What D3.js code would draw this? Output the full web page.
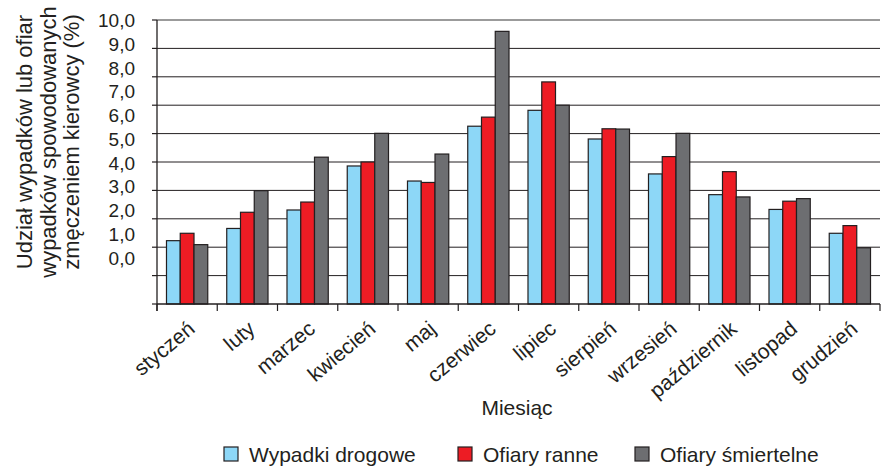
<!DOCTYPE html>
<html>
<head>
<meta charset="utf-8">
<script src="https://cdn.jsdelivr.net/npm/d3@7/dist/d3.min.js"></script>
<style>
  html, body { margin: 0; padding: 0; background: #fff; }
  svg text { font-family: Arial, "Liberation Sans", sans-serif; fill: #231f20; }
</style>
</head>
<body>
<svg id="chart" width="886" height="468"></svg>
<script>
// Months on the category axis
const months = ["styczeń", "luty", "marzec", "kwiecień", "maj", "czerwiec",
                "lipiec", "sierpień", "wrzesień", "październik", "listopad", "grudzień"];

// Series names (legend)
const seriesNames = ["Wypadki drogowe", "Ofiary ranne", "Ofiary śmiertelne"];

// Values per month, in grid units
const wypadkiDrogowe   = [2.23, 2.66, 3.31, 4.86, 4.33, 6.26, 6.82, 5.81, 4.58, 3.85, 3.33, 2.49];
const ofiaryRanne      = [2.49, 3.23, 3.59, 5.00, 4.28, 6.58, 7.82, 6.17, 5.19, 4.66, 3.62, 2.76];
const ofiarySmiertelne = [2.09, 3.99, 5.17, 6.01, 5.28, 9.60, 7.00, 6.16, 6.01, 3.77, 3.71, 1.98];

// Y tick labels
const yTickLabels = ["0,0", "1,0", "2,0", "3,0", "4,0", "5,0", "6,0", "7,0", "8,0", "9,0", "10,0"];

const colors = ["#8dd7f7", "#ed1c24", "#6d6e71"];
const seriesValues = [wypadkiDrogowe, ofiaryRanne, ofiarySmiertelne];

const svg = d3.select("#chart");
const plotLeft = 157, plotRight = 880, plotTop = 20, plotBottom = 304;

const x0 = d3.scaleBand().domain(months).range([plotLeft, plotRight]).padding(0);
const x1 = d3.scaleBand().domain(seriesNames).range([0, x0.bandwidth()])
  .paddingInner(0).paddingOuter(0.69);
const y = d3.scaleLinear().domain([0, 10]).range([plotBottom, plotTop]);
// tick labels are set on their own, tighter scale
const yLabel = d3.scaleLinear().domain([0, 10]).range([258, 20.5]);

// horizontal grid lines
const gridVals = d3.range(1, 11);
svg.append("g").selectAll("line").data(gridVals).join("line")
  .attr("x1", plotLeft).attr("x2", plotRight)
  .attr("y1", d => y(d)).attr("y2", d => y(d))
  .attr("stroke", d => d === 10 ? "#7a7a7a" : "#231f20")
  .attr("stroke-width", d => d === 10 ? 1.4 : 1);

// bars
const rows = months.map((m, i) => ({ month: m, vals: seriesNames.map((s, k) => ({ s, k, v: seriesValues[k][i] })) }));
const groups = svg.append("g").selectAll("g").data(rows).join("g")
  .attr("transform", d => `translate(${x0(d.month)},0)`);
groups.selectAll("rect").data(d => d.vals).join("rect")
  .attr("x", d => x1(d.s))
  .attr("width", x1.bandwidth())
  .attr("y", d => y(d.v))
  .attr("height", d => y(0) - y(d.v))
  .attr("fill", d => colors[d.k])
  .attr("stroke", "#231f20")
  .attr("stroke-width", 1.2);

// y axis with ticks
const yAxis = svg.append("g");
yAxis.append("line").attr("x1", plotLeft).attr("x2", plotLeft).attr("y1", plotTop).attr("y2", plotBottom + 7)
  .attr("stroke", "#231f20").attr("stroke-width", 1.3);
yAxis.selectAll("line.t").data(d3.range(0, 11)).join("line").attr("class", "t")
  .attr("x1", plotLeft - 5).attr("x2", plotLeft)
  .attr("y1", d => y(d)).attr("y2", d => y(d))
  .attr("stroke", "#231f20").attr("stroke-width", 1.2);
yAxis.selectAll("text").data(yTickLabels).join("text")
  .attr("x", 135).attr("y", (d, i) => yLabel(i))
  .attr("dy", "0.35em")
  .attr("text-anchor", "end")
  .style("font-size", "19px")
  .text(d => d);

// x axis
const xAxis = svg.append("g");
xAxis.append("line").attr("x1", plotLeft).attr("x2", plotRight).attr("y1", plotBottom).attr("y2", plotBottom)
  .attr("stroke", "#231f20").attr("stroke-width", 1.3);
xAxis.selectAll("line.t").data(d3.range(0, months.length + 1)).join("line").attr("class", "t")
  .attr("x1", d => plotLeft + d * x0.step()).attr("x2", d => plotLeft + d * x0.step())
  .attr("y1", plotBottom).attr("y2", plotBottom + 7)
  .attr("stroke", "#231f20").attr("stroke-width", 1.2);
xAxis.selectAll("text").data(months).join("text")
  .attr("transform", d => `translate(${x0(d) + x0.bandwidth() / 2 + 9},${plotBottom + 27}) rotate(-40)`)
  .attr("text-anchor", "end")
  .style("font-size", "21px")
  .text(d => d);

// axis titles
svg.append("text")
  .attr("x", 517).attr("y", 415)
  .attr("text-anchor", "middle")
  .style("font-size", "21px")
  .text("Miesiąc");

const yTitle = svg.append("text")
  .attr("transform", "translate(32,142) rotate(-90)")
  .attr("text-anchor", "middle")
  .style("font-size", "22px");
["Udział wypadków lub ofiar", "wypadków spowodowanych", "zmęczeniem kierowcy (%)"].forEach((t, i) => {
  yTitle.append("tspan").attr("x", 0).attr("dy", i === 0 ? 0 : 23.5).text(t);
});

// legend
const legendX = [224, 458, 635];
const legend = svg.append("g").selectAll("g").data(seriesNames).join("g")
  .attr("transform", (d, i) => `translate(${legendX[i]},447)`);
legend.append("rect").attr("width", 14).attr("height", 14)
  .attr("fill", (d, i) => colors[i]).attr("stroke", "#231f20").attr("stroke-width", 1.2);
legend.append("text").attr("x", 25).attr("y", 14.5)
  .style("font-size", "21px")
  .text(d => d);
</script>
</body>
</html>
